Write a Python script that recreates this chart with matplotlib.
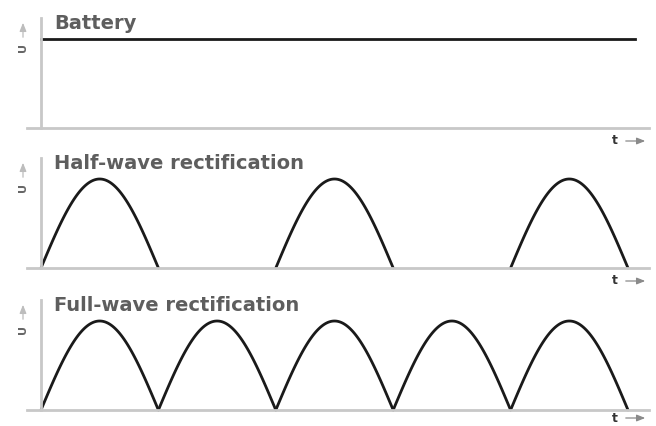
import numpy as np
import matplotlib.pyplot as plt

# data
titles = ["Battery", "Half-wave rectification", "Full-wave rectification"]
n_half_cycles = 5
battery_level = 1.0
half_wave_arches = [0, 2, 4]          # half-cycles that pass through
full_wave_arches = [0, 1, 2, 3, 4]    # every half-cycle passes through
peak = 1.0

# layout in pixels (width 656, height 426)
W, H = 656, 426
panels = [  # (axis top, baseline)
    (18, 128),
    (158, 268),
    (300, 410),
]
left_px, right_px = 27, 649
x0_px, x1_px = 41, 628
amp_px = 89

axis_grey = "#c8c8c8"
text_grey = "#5e5e5e"

fig = plt.figure(figsize=(W / 100, H / 100), dpi=100)

unit = (x1_px - x0_px) / n_half_cycles
for i, (top, base) in enumerate(panels):
    ax = fig.add_axes([left_px / W, 1 - base / H, (right_px - left_px) / W, (base - top) / H])
    ax.set_xlim(-(x0_px - left_px) / unit, n_half_cycles + (right_px - x1_px) / unit)
    ax.set_ylim(0, (base - top) / amp_px)
    for s in ["top", "right"]:
        ax.spines[s].set_visible(False)
    ax.spines["left"].set_position(("data", 0))
    for s in ["left", "bottom"]:
        ax.spines[s].set_color(axis_grey)
        ax.spines[s].set_linewidth(2)
    ax.set_xticks([])
    ax.set_yticks([])
    ax.patch.set_alpha(0)

    if i == 0:
        # battery line runs a little past the last half-cycle
        ax.plot([0, n_half_cycles + 7 / unit], [battery_level, battery_level],
                color="#1a1a1a", lw=2, clip_on=False)
    else:
        arches = half_wave_arches if i == 1 else full_wave_arches
        for k in arches:
            t = np.linspace(k, k + 1, 80)
            ax.plot(t, peak * np.abs(np.sin(np.pi * (t - k))), color="#1a1a1a", lw=2,
                    clip_on=False, solid_capstyle="round")

    # panel title
    fig.text(54 / W, 1 - (top + 11) / H, titles[i], fontsize=14, fontweight="bold",
             color=text_grey, va="baseline", ha="left")

    # time axis label "t ->"
    ty = min(base + 13, 418)
    fig.text(615 / W, 1 - ty / H, "t", fontsize=9, fontweight="bold",
             color="#333333", va="center", ha="center")
    ax.annotate("", xy=(648, H - ty), xytext=(623, H - ty),
                xycoords="figure pixels", textcoords="figure pixels",
                arrowprops=dict(arrowstyle="-|>,head_length=0.5,head_width=0.2",
                                color="#8a8a8a", lw=0.9))

    # value axis label, rotated
    fig.text(23 / W, 1 - (top + 29) / H, "U", fontsize=8, fontweight="bold",
             color="#666666", va="center", ha="center", rotation=90)
    ax.annotate("", xy=(23, H - (top + 2)), xytext=(23, H - (top + 22)),
                xycoords="figure pixels", textcoords="figure pixels",
                arrowprops=dict(arrowstyle="-|>,head_length=0.5,head_width=0.2",
                                color="#bdbdbd", lw=0.9))

fig.savefig("out.png", dpi=100)
